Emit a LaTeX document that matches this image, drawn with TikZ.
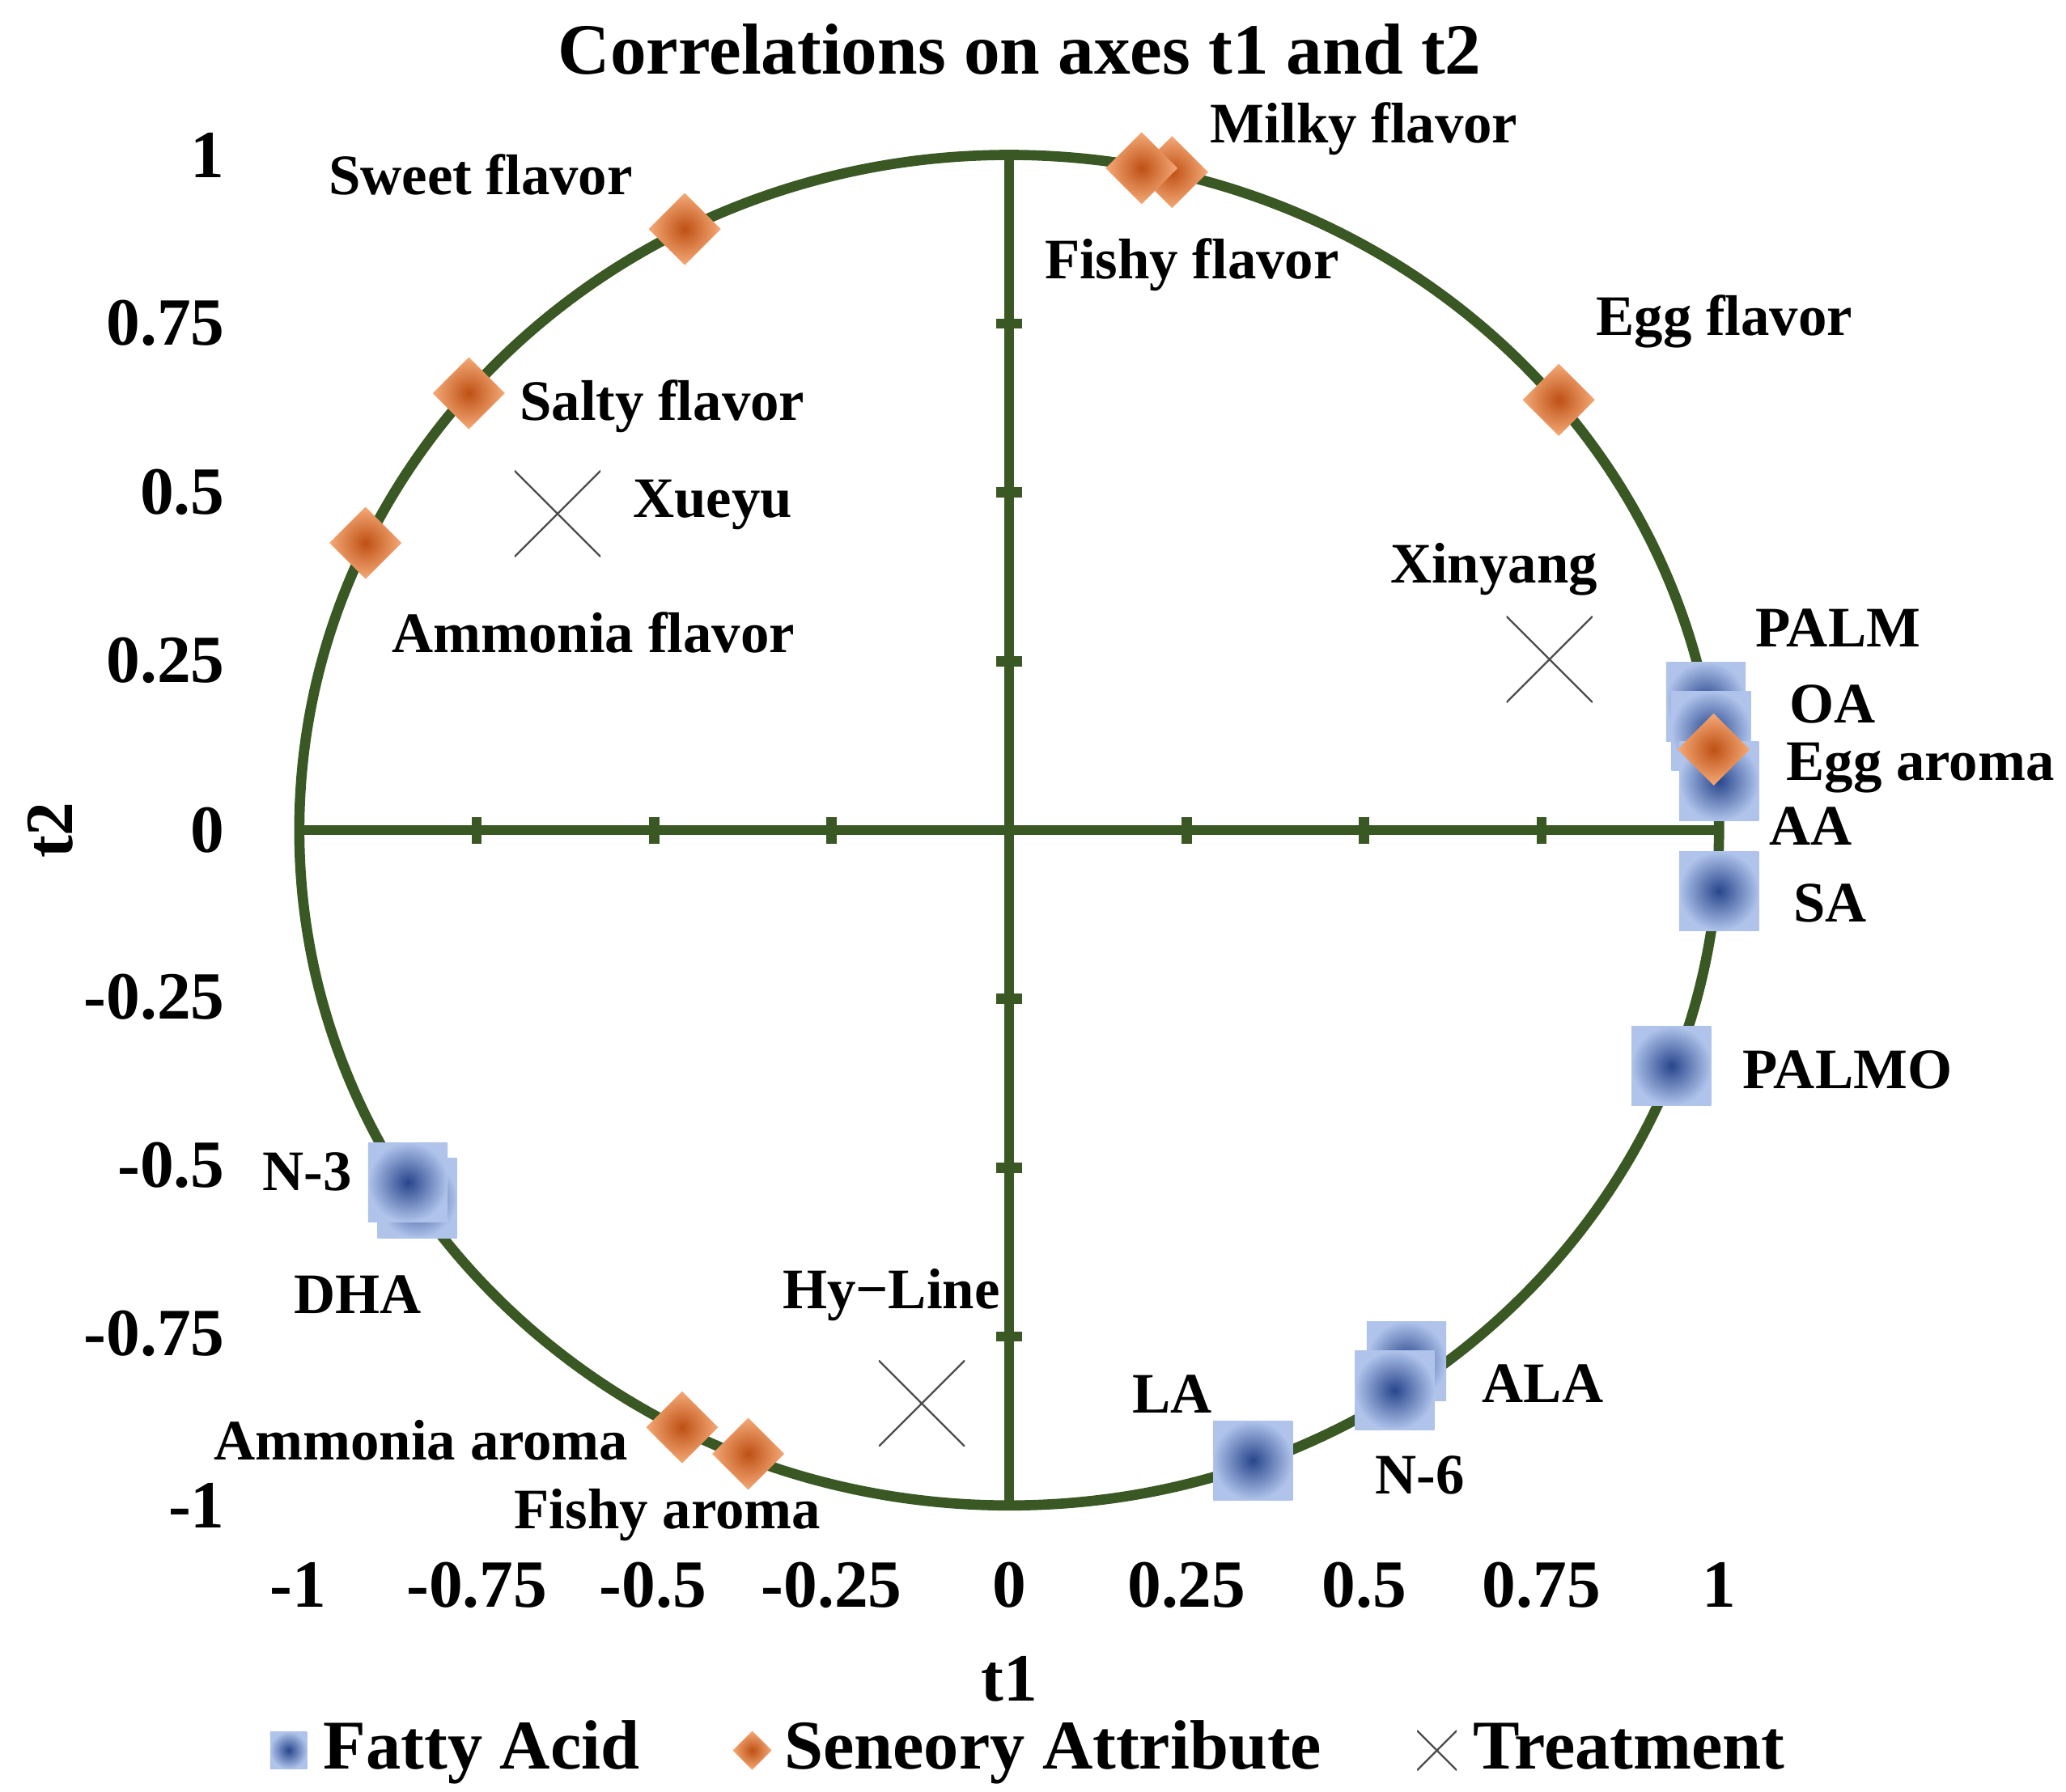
\documentclass[tikz,border=0pt]{standalone}
\usepackage{fontspec}
\setmainfont{Liberation Serif}
\usetikzlibrary{shapes.geometric}
\definecolor{axgreen}{RGB}{58,88,36}
\definecolor{fablue}{RGB}{40,70,140}
\definecolor{falight}{RGB}{175,195,235}
\definecolor{saorange}{RGB}{190,80,20}
\definecolor{salight}{RGB}{245,170,120}
\tikzset{
  fa/.style={rectangle,minimum size=0.6cm,inner sep=0pt,inner color=fablue,outer color=falight},
  sa/.style={diamond,minimum size=0.55cm,inner sep=0pt,inner color=saorange,outer color=salight},
  tr/.style={inner sep=0pt,minimum size=0.65cm,path picture={
      \draw[black!70,thin] (path picture bounding box.south west)--(path picture bounding box.north east)
        (path picture bounding box.north west)--(path picture bounding box.south east);}},
  lab/.style={font=\bfseries\fontsize{12.3}{12.3}\selectfont},
  tick/.style={font=\bfseries\fontsize{14.5}{14.5}\selectfont},
  leg/.style={anchor=base west,inner sep=1pt,font=\bfseries\fontsize{15}{15}\selectfont}
}
\begin{document}
\begin{tikzpicture}[x=0.01cm,y=-0.01cm]
  \useasboundingbox (0,0) rectangle (1560,1353);
  %kreds og akser
  \draw[axgreen,line width=2.2pt] (762,627) ellipse (536 and 510);
  \draw[axgreen,line width=2.2pt] (226,627)--(1298,627) (762,117)--(762,1137);
  \foreach \i in {1,...,7}{
    \draw[axgreen,line width=2.2pt] (226+134*\i,617)--(226+134*\i,637);
    \draw[axgreen,line width=2.2pt] (752,117+127.5*\i)--(772,117+127.5*\i);
  }
  %akse-tal
  \foreach \v/\p in {-1/225,-0.75/360,-0.5/493,-0.25/628,0/762,0.25/896,0.5/1030,0.75/1164,1/1298}
    \node[tick] (x\p) at (\p,1197) {\v};
  \foreach \v/\p in {1/117,0.75/244,0.5/372,0.25/499,0/627,-0.25/753,-0.5/880,-0.75/1007,-1/1137}
    \node[tick,anchor=east] (y\p) at (182,\p) {\v};
  \node[tick] (t1) at (762,1268) {t1};
  \node[tick,rotate=90] (t2) at (38,627) {t2};
  \node[font=\bfseries\fontsize{15.5}{15.5}\selectfont] (title) at (770,37) {Correlations on axes t1 and t2};

  %fedtsyrer
  \foreach \x/\y/\n in {1288/530/palm,1292/552/oa,1298/590/aa,1298/673/sa,1262/805/palmo,
      315/905/dha,308/893/n3,1062/1028/ala,1053/1050/n6,946/1103/la}
    \node[fa] (\n) at (\x,\y) {};
  %sensorik
  \foreach \x/\y/\n in {517/173/sweet,885/130/milky,862/127/fishyf,1177/302/eggf,354/297/salty,
      276/410/ammf,1294/566/egga,515/1078/amma,565/1098/fishya}
    \node[sa] (\n) at (\x,\y) {};
  %behandlinger
  \foreach \x/\y/\n in {421/388/xueyu,1170/498/xinyang,696/1060/hyline}
    \node[tr] (\n) at (\x,\y) {};

  %navne
  \node[lab] (lsweet) at (363,132) {Sweet flavor};
  \node[lab] (lmilky) at (1030,97) {Milky flavor};
  \node[lab] (lfishyf) at (900,200) {Fishy flavor};
  \node[lab] (leggf) at (1302,243) {Egg flavor};
  \node[lab] (lsalty) at (500,307) {Salty flavor};
  \node[lab] (lxueyu) at (538,381) {Xueyu};
  \node[lab] (lammf) at (448,478) {Ammonia flavor};
  \node[lab] (lxinyang) at (1128,430) {Xinyang};
  \node[lab] (lpalm) at (1388,474) {PALM};
  \node[lab] (loa) at (1384,532) {OA};
  \node[lab] (legga) at (1450,580) {Egg aroma};
  \node[lab] (laa) at (1367,624) {AA};
  \node[lab] (lsa) at (1382,682) {SA};
  \node[lab] (lpalmo) at (1395,808) {PALMO};
  \node[lab] (ln3) at (232,885) {N-3};
  \node[lab] (ldha) at (270,978) {DHA};
  \node[lab] (lhyline) at (673,978) {Hy{\textminus}Line};
  \node[lab] (lala) at (1165,1045) {ALA};
  \node[lab] (lla) at (885,1053) {LA};
  \node[lab] (ln6) at (1072,1114) {N-6};
  \node[lab] (lamma) at (318,1088) {Ammonia aroma};
  \node[lab] (lfishya) at (504,1144) {Fishy aroma};

  %forklaring
  \node[fa,minimum size=0.28cm] (kfa) at (218,1322) {};
  \node[leg] (lkfa) at (240,1336) {Fatty Acid};
  \node[sa,minimum size=0.3cm] (ksa) at (568,1322) {};
  \node[leg] (lksa) at (588,1336) {Seneory Attribute};
  \node[tr,minimum size=0.3cm] (ktr) at (1085,1322) {};
  \node[leg] (lktr) at (1108,1336) {Treatment};
\end{tikzpicture}
\end{document}
